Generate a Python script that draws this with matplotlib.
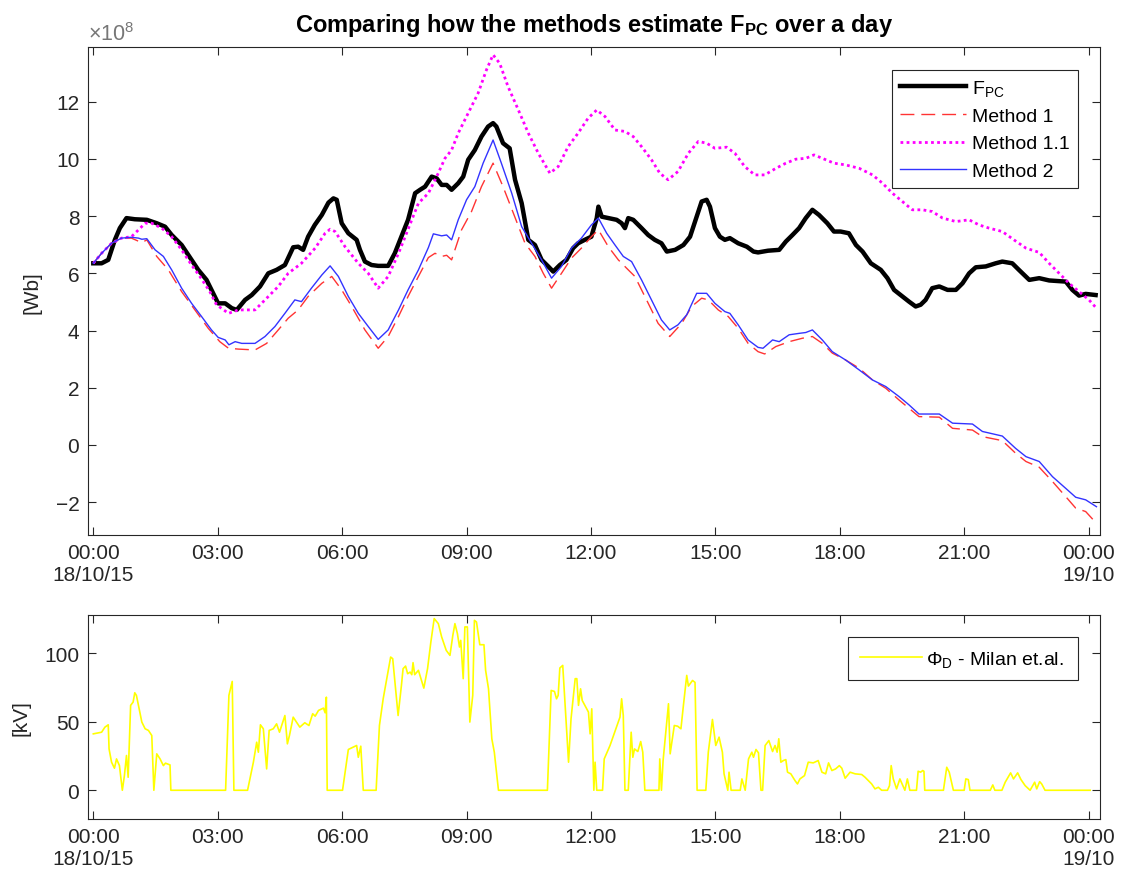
import matplotlib
matplotlib.use("Agg")
import matplotlib.pyplot as plt

plt.rcParams['font.family'] = ['Liberation Sans', 'DejaVu Sans']
plt.rcParams['mathtext.fontset'] = 'custom'
plt.rcParams['mathtext.rm'] = 'Liberation Sans'
plt.rcParams['mathtext.it'] = 'Liberation Sans:italic'
plt.rcParams['mathtext.bf'] = 'Liberation Sans:bold'

# ---- data (time in hours since 18/10/15 00:00, flux in 1e8 Wb) ----
t_fpc = [0, 0.2, 0.36, 0.52, 0.64, 0.8, 1.0, 1.29, 1.53, 1.73,
         1.89, 2.13, 2.37, 2.53, 2.73, 2.89, 3.01, 3.18, 3.34, 3.46,
         3.66, 3.82, 4.02, 4.22, 4.42, 4.62, 4.82, 4.94, 5.06, 5.18,
         5.34, 5.51, 5.67, 5.79, 5.87, 5.99, 6.15, 6.35, 6.43, 6.55,
         6.71, 6.87, 7.11, 7.27, 7.43, 7.59, 7.76, 7.88, 8.0, 8.16,
         8.28, 8.40, 8.52, 8.64, 8.80, 8.92, 9.04, 9.20, 9.36, 9.52,
         9.64, 9.72, 9.88, 10.04, 10.17, 10.33, 10.49, 10.65, 10.81, 10.97,
         11.09, 11.25, 11.41, 11.57, 11.69, 11.85, 12.01, 12.14, 12.18, 12.26,
         12.42, 12.62, 12.74, 12.82, 12.90, 13.02, 13.22, 13.38, 13.54, 13.70,
         13.83, 14.03, 14.23, 14.39, 14.55, 14.67, 14.79, 14.87, 14.99, 15.11,
         15.23, 15.35, 15.55, 15.76, 15.92, 16.03, 16.27, 16.54, 16.70, 16.86,
         17.02, 17.18, 17.34, 17.50, 17.70, 17.86, 18.02, 18.22, 18.39, 18.55,
         18.75, 18.99, 19.15, 19.31, 19.51, 19.67, 19.83, 19.95, 20.07, 20.23,
         20.40, 20.60, 20.80, 20.96, 21.12, 21.28, 21.52, 21.76, 21.92, 22.16,
         22.32, 22.57, 22.81, 23.05, 23.45, 23.61, 23.77, 23.93, 24.17]
fpc = [6.35, 6.35, 6.47, 7.17, 7.58, 7.93, 7.89, 7.87, 7.75, 7.63,
       7.34, 6.99, 6.47, 6.12, 5.77, 5.30, 4.95, 4.95, 4.78, 4.72,
       5.07, 5.24, 5.54, 6.00, 6.12, 6.29, 6.91, 6.93, 6.82, 7.28,
       7.69, 8.04, 8.47, 8.62, 8.57, 7.75, 7.40, 7.17, 6.82, 6.41,
       6.29, 6.26, 6.26, 6.70, 7.28, 7.87, 8.80, 8.92, 9.03, 9.38,
       9.32, 9.09, 9.09, 8.92, 9.15, 9.38, 9.97, 10.31, 10.78, 11.13,
       11.25, 11.13, 10.55, 10.37, 9.27, 8.45, 7.17, 6.99, 6.47, 6.24,
       6.06, 6.29, 6.47, 6.88, 7.05, 7.17, 7.28, 7.93, 8.33, 7.98,
       7.93, 7.87, 7.75, 7.58, 7.93, 7.87, 7.58, 7.34, 7.17, 7.05,
       6.76, 6.82, 6.99, 7.28, 7.98, 8.51, 8.57, 8.33, 7.58, 7.28,
       7.17, 7.23, 7.05, 6.93, 6.76, 6.73, 6.79, 6.82, 7.11, 7.34,
       7.58, 7.93, 8.22, 8.04, 7.75, 7.46, 7.46, 7.40, 6.99, 6.76,
       6.35, 6.12, 5.83, 5.42, 5.19, 5.01, 4.84, 4.90, 5.07, 5.48,
       5.54, 5.42, 5.42, 5.65, 6.00, 6.21, 6.24, 6.35, 6.41, 6.35,
       6.12, 5.77, 5.83, 5.75, 5.71, 5.42, 5.22, 5.28, 5.24]

t_m1 = [0, 0.2, 0.44, 0.68, 0.92, 1.17, 1.29, 1.53, 1.81, 2.13,
        2.45, 2.77, 3.05, 3.26, 3.50, 3.90, 4.18, 4.46, 4.70, 4.94,
        5.18, 5.51, 5.75, 5.99, 6.23, 6.55, 6.87, 7.11, 7.36, 7.59,
        7.84, 8.08, 8.24, 8.40, 8.52, 8.64, 8.88, 9.12, 9.36, 9.64,
        9.88, 10.13, 10.41, 10.65, 10.85, 11.05, 11.29, 11.53, 11.77, 12.01,
        12.18, 12.42, 12.66, 12.90, 13.06, 13.30, 13.62, 13.90, 14.19, 14.43,
        14.67, 14.83, 15.07, 15.31, 15.55, 15.79, 16.03, 16.19, 16.46, 16.78,
        17.10, 17.34, 17.58, 17.82, 18.14, 18.47, 18.79, 19.11, 19.43, 19.67,
        19.91, 20.40, 20.72, 21.20, 21.44, 21.92, 22.24, 22.49, 22.81, 23.13,
        23.45, 23.69, 23.93, 24.19]
m1 = [6.35, 6.70, 7.05, 7.23, 7.23, 7.07, 7.17, 6.59, 6.12, 5.36,
      4.72, 4.08, 3.61, 3.38, 3.35, 3.32, 3.55, 4.02, 4.43, 4.72,
      5.19, 5.65, 5.89, 5.42, 4.84, 4.02, 3.38, 3.79, 4.49, 5.19,
      5.89, 6.55, 6.70, 6.59, 6.63, 6.47, 7.52, 8.16, 9.03, 9.85,
      9.03, 8.10, 7.05, 6.59, 6.00, 5.48, 6.00, 6.53, 6.88, 7.28,
      7.52, 6.93, 6.47, 6.12, 5.89, 5.19, 4.25, 3.79, 4.25, 4.84,
      5.13, 5.07, 4.72, 4.49, 4.08, 3.55, 3.26, 3.18, 3.44, 3.61,
      3.73, 3.79, 3.55, 3.21, 2.97, 2.68, 2.27, 1.98, 1.57, 1.28,
      0.99, 0.97, 0.58, 0.52, 0.29, 0.15, -0.29, -0.58, -0.78, -1.28,
      -1.81, -2.21, -2.33, -2.74]

t_m11 = [0, 0.2, 0.44, 0.68, 0.92, 1.09, 1.25, 1.41, 1.65, 1.89,
         2.13, 2.37, 2.57, 2.81, 2.97, 3.26, 3.50, 3.90, 4.14, 4.46,
         4.70, 5.02, 5.35, 5.59, 5.71, 5.83, 6.07, 6.39, 6.63, 6.87,
         7.11, 7.36, 7.52, 7.68, 7.84, 8.08, 8.28, 8.48, 8.64, 8.80,
         9.04, 9.28, 9.48, 9.64, 9.80, 10.00, 10.25, 10.49, 10.73, 11.01,
         11.21, 11.45, 11.69, 11.93, 12.14, 12.34, 12.58, 12.82, 13.02, 13.22,
         13.46, 13.66, 13.86, 14.10, 14.35, 14.59, 14.79, 14.99, 15.27, 15.47,
         15.71, 15.95, 16.19, 16.46, 16.70, 16.94, 17.18, 17.38, 17.58, 17.86,
         18.14, 18.47, 18.79, 19.03, 19.27, 19.51, 19.75, 19.99, 20.23, 20.48,
         20.80, 21.12, 21.36, 21.60, 21.92, 22.20, 22.49, 22.81, 23.05, 23.29,
         23.53, 23.77, 24.01, 24.19]
m11 = [6.35, 6.70, 7.05, 7.23, 7.28, 7.52, 7.75, 7.75, 7.58, 7.28,
       6.82, 6.29, 5.89, 5.36, 4.90, 4.60, 4.72, 4.72, 5.07, 5.54,
       6.00, 6.35, 6.88, 7.40, 7.54, 7.46, 6.93, 6.35, 6.00, 5.48,
       5.89, 6.70, 7.28, 7.87, 8.45, 8.80, 9.38, 10.02, 10.31, 10.90,
       11.60, 12.30, 13.11, 13.64, 13.34, 12.53, 11.71, 10.90, 10.20, 9.50,
       9.73, 10.43, 10.90, 11.42, 11.71, 11.48, 11.01, 10.96, 10.78, 10.43,
       9.97, 9.50, 9.27, 9.56, 10.20, 10.61, 10.55, 10.37, 10.41, 10.20,
       9.73, 9.44, 9.44, 9.67, 9.85, 9.99, 10.02, 10.14, 10.02, 9.85,
       9.79, 9.67, 9.44, 9.15, 8.80, 8.51, 8.22, 8.22, 8.16, 7.93,
       7.81, 7.87, 7.69, 7.58, 7.46, 7.17, 6.88, 6.73, 6.35, 6.00,
       5.65, 5.36, 5.07, 4.78]

t_m2 = [0, 0.2, 0.44, 0.68, 0.92, 1.09, 1.17, 1.29, 1.49, 1.69,
        1.89, 2.13, 2.37, 2.61, 2.85, 3.01, 3.18, 3.27, 3.42, 3.58,
        3.90, 4.14, 4.38, 4.62, 4.86, 5.02, 5.26, 5.51, 5.71, 5.91,
        6.15, 6.39, 6.63, 6.87, 7.11, 7.36, 7.59, 7.84, 8.08, 8.20,
        8.40, 8.52, 8.64, 8.80, 9.00, 9.20, 9.40, 9.64, 9.84, 10.09,
        10.33, 10.57, 10.81, 11.05, 11.29, 11.53, 11.77, 12.01, 12.18, 12.38,
        12.58, 12.78, 12.98, 13.22, 13.46, 13.70, 13.90, 14.10, 14.31, 14.55,
        14.79, 14.99, 15.23, 15.35, 15.55, 15.79, 16.03, 16.15, 16.38, 16.54,
        16.78, 17.02, 17.18, 17.34, 17.58, 17.82, 18.14, 18.47, 18.79, 19.11,
        19.43, 19.67, 19.91, 20.40, 20.72, 21.20, 21.44, 21.92, 22.24, 22.49,
        22.81, 23.13, 23.45, 23.69, 23.93, 24.19]
m2 = [6.35, 6.70, 7.05, 7.23, 7.26, 7.23, 7.19, 7.21, 6.82, 6.59,
      6.12, 5.48, 4.95, 4.49, 4.02, 3.76, 3.67, 3.50, 3.61, 3.55,
      3.55, 3.79, 4.14, 4.60, 5.07, 5.01, 5.48, 5.94, 6.26, 5.89,
      5.19, 4.60, 4.14, 3.69, 4.02, 4.72, 5.42, 6.12, 6.90, 7.38,
      7.31, 7.34, 7.17, 7.87, 8.57, 9.03, 9.85, 10.66, 9.85, 8.80,
      7.63, 7.05, 6.47, 5.83, 6.24, 6.88, 7.23, 7.69, 7.93, 7.40,
      6.99, 6.59, 6.41, 5.77, 5.07, 4.37, 4.02, 4.20, 4.55, 5.30,
      5.30, 4.95, 4.66, 4.60, 4.20, 3.67, 3.41, 3.38, 3.67, 3.61,
      3.85, 3.90, 3.93, 4.02, 3.67, 3.26, 2.97, 2.62, 2.27, 2.04,
      1.69, 1.40, 1.08, 1.08, 0.76, 0.73, 0.47, 0.31, -0.12, -0.41,
      -0.58, -1.11, -1.52, -1.83, -1.92, -2.16]

# ---- Phi_D (kV) ----
t_phi = [0, 0.2, 0.28, 0.36, 0.38, 0.44, 0.51, 0.56, 0.63, 0.70,
         0.75, 0.80, 0.84, 0.90, 0.96, 1.00, 1.04, 1.17, 1.25, 1.33,
         1.41, 1.46, 1.53, 1.61, 1.69, 1.74, 1.85, 1.87, 3.19, 3.27,
         3.35, 3.39, 3.72, 3.86, 3.94, 3.98, 4.03, 4.10, 4.18, 4.24,
         4.34, 4.42, 4.49, 4.62, 4.68, 4.73, 4.82, 4.98, 5.10, 5.20,
         5.29, 5.35, 5.43, 5.55, 5.59, 5.62, 5.64, 6.01, 6.15, 6.35,
         6.39, 6.45, 6.51, 6.82, 6.90, 6.99, 7.07, 7.17, 7.22, 7.35,
         7.43, 7.47, 7.53, 7.58, 7.64, 7.68, 7.71, 7.75, 7.84, 7.97,
         8.06, 8.14, 8.22, 8.32, 8.40, 8.51, 8.60, 8.67, 8.72, 8.78,
         8.83, 8.86, 8.92, 8.96, 9.02, 9.08, 9.15, 9.19, 9.24, 9.32,
         9.42, 9.46, 9.53, 9.61, 9.67, 9.77, 10.95, 11.04, 11.12, 11.17,
         11.21, 11.25, 11.32, 11.46, 11.52, 11.62, 11.66, 11.70, 11.75, 11.79,
         11.94, 11.98, 12.02, 12.07, 12.10, 12.14, 12.28, 12.32, 12.46, 12.70,
         12.74, 12.78, 12.82, 12.90, 12.97, 13.01, 13.05, 13.13, 13.20, 13.25,
         13.30, 13.64, 13.66, 13.70, 13.74, 13.80, 13.87, 13.91, 14.01, 14.09,
         14.17, 14.23, 14.31, 14.35, 14.45, 14.51, 14.56, 14.77, 14.83, 14.93,
         15.01, 15.09, 15.17, 15.21, 15.30, 15.33, 15.38, 15.60, 15.64, 15.72,
         15.80, 15.88, 15.92, 15.98, 16.04, 16.10, 16.14, 16.20, 16.29, 16.38,
         16.44, 16.49, 16.53, 16.58, 16.64, 16.70, 16.74, 16.82, 16.92, 16.98,
         17.04, 17.15, 17.24, 17.36, 17.48, 17.57, 17.66, 17.73, 17.81, 17.90,
         17.99, 18.05, 18.13, 18.25, 18.37, 18.53, 18.61, 18.69, 18.77, 18.85,
         18.93, 19.01, 19.15, 19.20, 19.24, 19.29, 19.37, 19.45, 19.52, 19.57,
         19.63, 19.69, 19.85, 19.89, 19.95, 20.00, 20.03, 20.05, 20.50, 20.58,
         20.64, 20.74, 21.00, 21.04, 21.10, 21.14, 21.63, 21.69, 21.74, 21.91,
         21.99, 22.12, 22.19, 22.29, 22.37, 22.47, 22.59, 22.70, 22.75, 22.82,
         22.87, 22.95, 24.04]
phi_d = [41.2, 42.4, 46.1, 47.8, 30.2, 20.5, 16.1, 22.9, 18.0, 0,
         10.7, 25.4, 9.5, 62.0, 64.4, 71.2, 69.3, 49.8, 44.9, 43.7,
         40.0, 0, 26.6, 22.9, 18.0, 19.8, 18.5, 0, 0, 69.3,
         79.5, 0, 0, 20.5, 35.1, 27.8, 47.8, 44.9, 15.6, 43.7,
         44.9, 48.5, 42.4, 54.6, 33.9, 40.0, 53.4, 46.1, 49.3, 47.3,
         55.9, 54.1, 58.3, 60.0, 56.6, 68.0, 0, 0, 29.8, 32.7,
         24.1, 32.2, 0, 0, 47.3, 66.8, 80.2, 97.3, 96.1, 54.6,
         76.6, 88.8, 90.7, 85.1, 86.3, 84.4, 93.2, 84.4, 87.6, 74.6,
         88.8, 108.3, 125.4, 121.7, 112.0, 102.2, 98.5, 113.2, 121.7, 114.4,
         104.6, 109.5, 81.5, 119.3, 119.3, 49.8, 69.3, 124.1, 122.9, 106.3,
         106.3, 87.6, 74.1, 37.6, 27.8, 0, 0, 72.9, 72.2, 66.8,
         69.3, 89.3, 91.2, 20.5, 52.2, 81.5, 81.5, 62.0, 74.1, 65.6,
         57.1, 41.2, 59.5, 0, 20.5, 0, 0, 22.9, 32.7, 53.4,
         66.8, 54.6, 0, 0, 42.4, 24.1, 30.2, 28.3, 35.6, 27.8,
         0, 0, 22.9, 0, 21.7, 41.2, 63.2, 26.6, 47.3, 46.8,
         44.9, 62.0, 83.9, 76.1, 80.2, 78.8, 0, 0, 27.8, 51.7,
         32.7, 38.8, 27.8, 12.0, 0, 13.2, 0, 0, 8.3, 0,
         22.9, 27.8, 24.1, 29.8, 27.3, 0, 0, 32.7, 36.3, 28.3,
         32.7, 27.8, 37.6, 20.5, 21.7, 22.4, 13.2, 12.0, 7.1, 4.6,
         8.3, 10.7, 20.5, 20.0, 21.7, 13.2, 12.0, 20.0, 14.4, 15.6,
         18.0, 16.1, 8.8, 13.2, 12.0, 11.5, 9.5, 7.1, 4.6, 1.0,
         2.2, 0, 0, 3.4, 18.0, 8.3, 1.0, 8.3, 3.4, 0,
         8.3, 0, 0, 13.9, 13.2, 14.4, 13.9, 0, 0, 16.8,
         13.2, 0, 0, 8.3, 7.8, 0, 0, 3.9, 0, 0,
         5.9, 12.7, 8.3, 12.7, 7.8, 3.4, 0, 5.9, 1.0, 6.3,
         4.6, 0, 0]

tick_hours = [0, 3, 6, 9, 12, 15, 18, 21, 24]
tick_labels = ['00:00\n18/10/15', '03:00', '06:00', '09:00', '12:00',
               '15:00', '18:00', '21:00', '00:00\n19/10']

AX_COL = '#262626'
FS = 15

fig = plt.figure(figsize=(11.23, 8.79), dpi=100)
ax1 = fig.add_axes([0.0781, 0.3902, 0.9014, 0.5548])
ax2 = fig.add_axes([0.0781, 0.0671, 0.9014, 0.2321])

ax1.plot(t_fpc, fpc, color='black', lw=3.2, label=r'F$_{\mathrm{PC}}$')
ax1.plot(t_m1, m1, color='#FF3333', lw=1.0, dashes=(10, 5), label='Method 1')
ax1.plot(t_m11, m11, color='#FF00FF', lw=2.0, linestyle=(0, (1, 1.2)), label='Method 1.1')
ax1.plot(t_m2, m2, color='#3333FF', lw=1.0, label='Method 2')

ax2.plot(t_phi, phi_d, color='#FFFF00', lw=1.2, label='Φ$_{\\mathrm{D}}$ - Milan et.al.')

for ax in (ax1, ax2):
    ax.set_xlim(-0.135, 24.275)
    ax.set_xticks(tick_hours)
    ax.set_xticklabels(tick_labels)
    ax.tick_params(direction='in', top=True, right=True, length=6, width=0.8,
                   labelsize=FS, colors=AX_COL, pad=6)
    for sp in ax.spines.values():
        sp.set_color(AX_COL)
        sp.set_linewidth(0.8)

ax1.set_ylim(-3.15, 13.9)
ax1.set_yticks([-2, 0, 2, 4, 6, 8, 10, 12])
ax1.set_ylabel('[Wb]', fontsize=FS, color=AX_COL, labelpad=10)
ax1.text(0.0, 1.004, '×10$^{8}$', transform=ax1.transAxes, fontsize=FS + 0.5,
         color='#777777', ha='left', va='bottom')
ax1.set_title(r'Comparing how the methods estimate F$_{\mathbf{PC}}$ over a day',
              fontsize=17, fontweight='bold', pad=12)

ax2.set_ylim(-21, 128)
ax2.set_yticks([0, 50, 100])
ax2.set_ylabel('[kV]', fontsize=FS, color=AX_COL, labelpad=10)

leg1 = ax1.legend(loc='upper right', bbox_to_anchor=(0.978, 0.9535), borderaxespad=0,
                  fontsize=14, fancybox=False, framealpha=1, edgecolor=AX_COL,
                  handlelength=3.4, handletextpad=0.3, labelspacing=0.5,
                  borderpad=0.4)
leg1.get_frame().set_linewidth(0.8)
leg2 = ax2.legend(loc='upper right', bbox_to_anchor=(0.978, 0.892), borderaxespad=0,
                  fontsize=14, fancybox=False, framealpha=1, edgecolor=AX_COL,
                  handlelength=3.2, handletextpad=0.3, borderpad=0.6)
leg2.get_frame().set_linewidth(0.8)
for txt in leg2.get_texts():
    txt.set_x(-2)

fig.savefig('out.png', dpi=100)
